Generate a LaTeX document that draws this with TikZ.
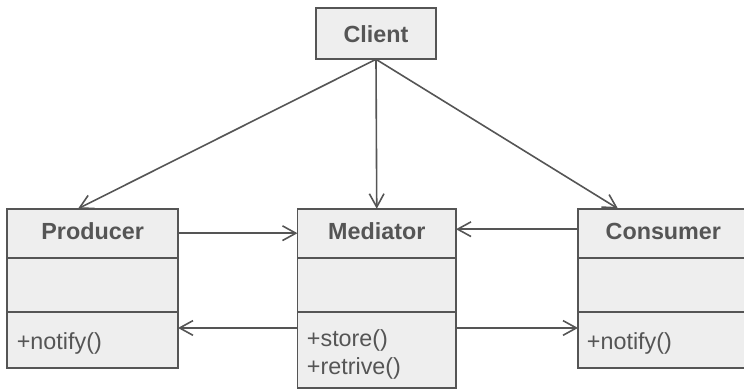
\documentclass[tikz,border=0pt]{standalone}
\usepackage{fontspec}
\setmainfont{Liberation Sans}
\usetikzlibrary{arrows.meta}
\usetikzlibrary{positioning}
\definecolor{umlline}{HTML}{555555}
\definecolor{umlfill}{HTML}{EEEEEE}
\tikzset{
  part/.style={draw=umlline, fill=umlfill, line width=1.4pt, minimum width=128pt,
    inner sep=0pt, outer sep=0pt, text=umlline, font=\fontsize{17.5}{21}\selectfont\bfseries},
  title/.style={text depth=3.5pt},
  conn/.style={draw=umlline, line width=1.2pt, -{Straight Barb[length=10pt,width=11pt,line width=1.2pt]}},
  op/.style={anchor=base west, inner sep=0pt, text=umlline, font=\fontsize{17.5}{21}\selectfont},
}

\begin{document}
\begin{tikzpicture}[x=0.75pt,y=0.75pt,yscale=-1,xscale=1]
\useasboundingbox (0,0) rectangle (744,389);

%Class: Client
\node[part, minimum width=90pt, minimum height=38.25pt] (client) at (376,33.8) {Client};

%Class: Producer
\node[part, title, minimum height=36.75pt] (prodname) at (92.65,233.2) {Producer};
\node[part, minimum height=40.7pt, below=0pt of prodname] (prodattr) {};
\node[part, minimum height=42pt, below=0pt of prodattr] (prodops) {};

%Class: Mediator
\node[part, title, minimum width=118.9pt, minimum height=36.75pt] (medname) at (376.75,233.2) {Mediator};
\node[part, minimum width=118.9pt, minimum height=40.7pt, below=0pt of medname] (medattr) {};
\node[part, minimum width=118.9pt, minimum height=57pt, below=0pt of medattr] (medops) {};

%Class: Consumer
\node[part, title, minimum height=36.75pt] (consname) at (663.35,233.2) {Consumer};
\node[part, minimum height=40.7pt, below=0pt of consname] (consattr) {};
\node[part, minimum height=42pt, below=0pt of consattr] (consops) {};

% Text Node
\node[op] (prodnotify) at (16.6,349.3) {+notify()};
% Text Node
\node[op] (medstore) at (306.7,346.7) {+store()};
% Text Node
\node[op] (medretrive) at (306.7,374.3) {+retrive()};
% Text Node
\node[op] (consnotify) at (586.7,349.3) {+notify()};

%Arrows from Client
\path (prodname.north west) ++(70.7,0) coordinate (prodin);
\path (consname.north west) ++(40,0) coordinate (consin);
\draw[conn] (client.south) -- (prodin);
\draw[conn] (client.south) -- (medname.north);
\draw[conn] (client.south) -- (consin);

%Arrows between the classes
\draw[conn] (prodname) -- (medname);
\draw[conn] (consname.west) ++(0,-4) coordinate (consout) -- (consout -| medname.east);
\draw[conn] (medops.north west) ++(0,16) coordinate (medleft) -- (medleft -| prodops.east);
\draw[conn] (medops.north east) ++(0,16) coordinate (medright) -- (medright -| consops.west);

\end{tikzpicture}
\end{document}
